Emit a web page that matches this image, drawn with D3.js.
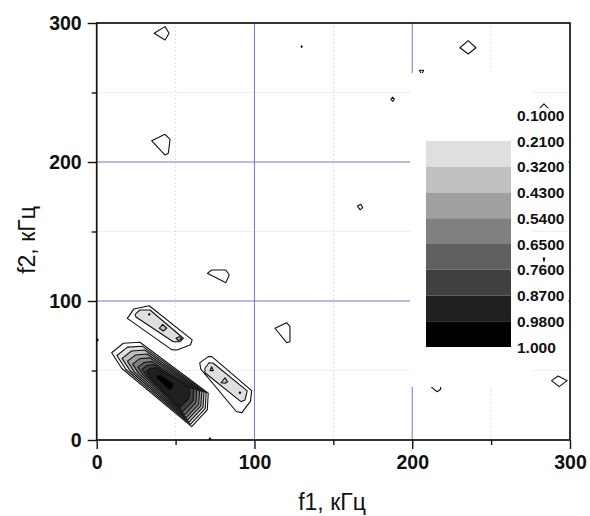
<!DOCTYPE html>
<html><head><meta charset="utf-8">
<script src="https://cdn.jsdelivr.net/npm/d3@7"></script>
<style>body{margin:0;background:#fff}</style>
</head><body><svg id="c" width="590" height="516"></svg>
<script>
const xTicks = [0, 100, 200, 300];
const yTicks = [0, 100, 200, 300];
const minorTicks = [50, 150, 250];
const gridMajor = [100, 200];
const gridMinor = [50, 150, 250];
const levels = [0.1, 0.21, 0.32, 0.43, 0.54, 0.65, 0.76, 0.87, 0.98, 1.0];
const levelLabels = ["0.1000","0.2100","0.3200","0.4300","0.5400","0.6500","0.7600","0.8700","0.9800","1.000"];
const bandColors = ["#dfdfdf","#c0c0c0","#a0a0a0","#808080","#606060","#404040","#202020","#000000"];

// contour rings: [level, [[f1, f2], ...]]
const mainBlob = [
  [0.10, [[9.5,62.8],[16.9,69.6],[27.4,70.3],[70.7,33.6],[70.1,21.6],[60.2,9.6],[15.8,51.6]]],
  [0.21, [[12.8,60.8],[19.5,66.8],[28.9,67.5],[69.4,34.0],[68.8,22.6],[59.4,11.2],[18.5,50.7]]],
  [0.32, [[16.1,58.7],[22.1,64.0],[30.5,64.7],[68.0,34.4],[67.4,23.6],[58.5,12.9],[21.2,49.8]]],
  [0.43, [[19.5,56.7],[24.7,61.2],[32.0,61.9],[66.6,34.9],[66.0,24.6],[57.6,14.5],[23.9,48.8]]],
  [0.54, [[22.8,54.6],[27.3,58.5],[33.6,59.1],[65.2,35.3],[64.6,25.6],[56.7,16.1],[26.6,47.9]]],
  [0.65, [[26.1,52.6],[29.9,55.7],[35.1,56.4],[63.4,35.9],[62.9,26.9],[55.7,18.1],[29.3,47.0]]],
  [0.76, [[28.8,50.9],[32.0,53.8],[36.3,54.1],[61.5,36.5],[61.1,28.3],[54.5,20.4],[31.5,46.3]]],
  [0.87, [[31.5,49.3],[34.0,51.6],[37.6,51.9],[59.0,37.3],[58.6,30.1],[52.9,23.4],[33.6,45.5]]],
  [0.98, [[37.8,45.5],[38.9,46.5],[40.5,46.6],[48.4,40.6],[48.3,38.2],[46.3,35.8],[38.7,43.8]]]
];
const upperBlob = [
  [0.10, [[19.4,87.5],[23.5,94.2],[33.3,96.6],[60.5,72.0],[59.5,68.5],[51.0,64.7],[47.5,65.0]]],
  [0.21, [[24.3,90.4],[27.4,93.5],[33.8,93.5],[54.9,73.2],[52.8,70.7],[48.5,70.7],[24.9,88.5]]],
  [0.32, [[39.7,80.4],[41.8,83.2],[44.4,80.4],[42.2,78.4]]],
  [0.32, [[50.3,73.2],[52.3,74.3],[53.9,72.7],[51.7,71.5]]],
  [0.32, [[32.8,90.4],[33.3,91.0],[33.8,90.4],[33.3,89.8]]]
];
const rightBlob = [
  [0.10, [[65.3,55.5],[70.7,60.0],[73.0,60.0],[98.2,35.5],[97.5,28.0],[92.0,19.7],[88.5,20.5],[66.0,51.0]]],
  [0.21, [[68.6,51.6],[71.2,55.6],[73.9,55.2],[95.4,35.3],[94.0,28.8],[91.4,27.6],[68.6,48.4]]],
  [0.32, [[71.8,49.9],[72.9,52.7],[73.9,49.9]]],
  [0.32, [[78.8,41.2],[81.3,44.8],[83.0,41.9],[81.3,40.8]]],
  [0.32, [[90.3,34.0],[90.8,34.6],[91.3,34.0],[90.8,33.4]]]
];
const smallContours = [
  [0.10, [[36.4,292.6],[43.3,297.4],[45.9,292.6],[43.3,287.8]]],
  [0.10, [[230.2,282.2],[235.5,287.3],[240.4,282.2],[235.5,277.7]]],
  [0.10, [[129.5,283.0],[129.9,283.5],[130.3,283.0],[129.9,282.5]]],
  [0.10, [[186.5,245.1],[187.6,246.7],[188.7,245.1],[187.6,243.5]]],
  [0.10, [[204.6,266.0],[205.9,262.8],[207.2,266.0]]],
  [0.10, [[279.0,236.5],[283.5,241.8],[288.0,236.5],[283.5,232.0]]],
  [0.10, [[283.0,130.6],[283.5,131.3],[284.0,130.6],[283.5,128.5]]],
  [0.10, [[34.8,215.3],[43.3,219.9],[46.5,216.3],[45.4,206.3],[43.3,205.0]]],
  [0.10, [[70.1,119.9],[72.9,122.3],[81.9,122.3],[84.0,118.7],[81.9,113.2]]],
  [0.10, [[113.0,80.4],[120.4,84.4],[122.5,81.5],[122.5,70.7],[120.4,70.0]]],
  [0.10, [[165.3,168.3],[167.4,169.6],[168.6,167.2],[167.0,165.6]]],
  [0.10, [[288.3,42.7],[292.5,46.0],[298.2,42.7],[293.1,38.4]]],
  [0.10, [[212.3,39.0],[212.3,37.9],[215.8,34.7],[218.0,36.5],[218.0,39.5],[215.0,40.5]]],
  [0.10, [[71.0,0.2],[71.8,1.5],[72.6,0.2]]],
  [0.10, [[0.0,70.8],[1.0,72.0],[0.0,73.2]]]
];

const svg = d3.select("#c");
const x = d3.scaleLinear().domain([0, 300]).range([96.7, 570]);
const y = d3.scaleLinear().domain([0, 300]).range([440, 23]);

// grid
const grid = svg.append("g");
gridMinor.forEach(v => {
  grid.append("line").attr("x1", x(v)).attr("x2", x(v)).attr("y1", y(0)).attr("y2", y(300))
    .attr("stroke", "#d6e6e0").attr("stroke-width", 1).attr("stroke-dasharray", "2,2");
  grid.append("line").attr("y1", y(v)).attr("y2", y(v)).attr("x1", x(0)).attr("x2", x(300))
    .attr("stroke", "#d6e6e0").attr("stroke-width", 1).attr("stroke-dasharray", "2,2");
});
gridMajor.forEach(v => {
  grid.append("line").attr("x1", x(v)).attr("x2", x(v)).attr("y1", y(0)).attr("y2", y(300))
    .attr("stroke", "#7474d4").attr("stroke-width", 1);
  grid.append("line").attr("y1", y(v)).attr("y2", y(v)).attr("x1", x(0)).attr("x2", x(300))
    .attr("stroke", "#7474d4").attr("stroke-width", 1);
});

// contours
svg.append("clipPath").attr("id", "clip").append("rect")
  .attr("x", x(0)).attr("y", y(300)).attr("width", x(300) - x(0)).attr("height", y(0) - y(300));
const fillFor = lv => {
  const i = levels.indexOf(lv);
  return i <= 0 ? "none" : bandColors[i - 1];
};
const line = d3.line().x(d => x(d[0])).y(d => y(d[1])).curve(d3.curveLinearClosed);
const cg = svg.append("g").attr("clip-path", "url(#clip)");
[mainBlob, upperBlob, rightBlob, smallContours].forEach(group => {
  cg.selectAll(null).data(group).enter().append("path")
    .attr("d", d => line(d[1]))
    .attr("fill", d => fillFor(d[0]))
    .attr("stroke", "#111").attr("stroke-width", 1.1).attr("stroke-linejoin", "round");
});

// legend background
svg.append("rect").attr("x", 410).attr("y", 73).attr("width", 122).attr("height", 314).attr("fill", "#fff");
const legY = d3.scaleLinear().domain([1, 9]).range([141, 347]);
const lg = svg.append("g");
levelLabels.forEach((t, i) => {
  lg.append("rect").attr("x", 515).attr("y", legY(i) - 7).attr("width", 53).attr("height", 15).attr("fill", "#fff");
});
bandColors.forEach((c, k) => {
  lg.append("rect").attr("x", 426).attr("width", 85)
    .attr("y", legY(k + 1)).attr("height", legY(k + 2) - legY(k + 1)).attr("fill", c);
});
levelLabels.forEach((t, i) => {
  lg.append("text").attr("x", 517).attr("y", legY(i)).attr("dy", "0.36em")
    .attr("font-family", "Liberation Sans, Arial, sans-serif").attr("font-weight", "bold")
    .attr("font-size", "15.5px").attr("fill", "#111").text(t);
});

// axes
const fontFam = "Liberation Sans, Arial, sans-serif";
const xAxis = svg.append("g").attr("transform", `translate(0,${y(0)})`)
  .call(d3.axisBottom(x).tickValues(xTicks).tickSize(9).tickPadding(6).tickFormat(d3.format("d")));
const xMinor = svg.append("g").attr("transform", `translate(0,${y(0)})`)
  .call(d3.axisBottom(x).tickValues(minorTicks).tickSize(5).tickFormat(""));
const yAxis = svg.append("g").attr("transform", `translate(${x(0)},0)`)
  .call(d3.axisLeft(y).tickValues(yTicks).tickSize(9).tickPadding(6).tickFormat(d3.format("d")));
const yMinor = svg.append("g").attr("transform", `translate(${x(0)},0)`)
  .call(d3.axisLeft(y).tickValues(minorTicks).tickSize(5).tickFormat(""));
[xAxis, xMinor, yAxis, yMinor].forEach(g => {
  g.select(".domain").remove();
  g.selectAll("line").attr("stroke", "#111").attr("stroke-width", 1.4);
  g.selectAll("text").attr("font-family", fontFam).attr("font-weight", "bold")
    .attr("font-size", "19.5px").attr("fill", "#111");
});

// frame
svg.append("rect").attr("x", x(0)).attr("y", y(300)).attr("width", x(300) - x(0)).attr("height", y(0) - y(300))
  .attr("fill", "none").attr("stroke", "#111").attr("stroke-width", 1.7);

// titles
svg.append("text").attr("x", 332).attr("y", 510).attr("text-anchor", "middle")
  .attr("font-family", fontFam).attr("font-size", "23px").attr("fill", "#111").text("f1, кГц");
svg.append("text").attr("transform", "translate(35,240) rotate(-90)").attr("text-anchor", "middle")
  .attr("font-family", fontFam).attr("font-size", "23px").attr("fill", "#111").text("f2, кГц");
</script>
</body></html>
